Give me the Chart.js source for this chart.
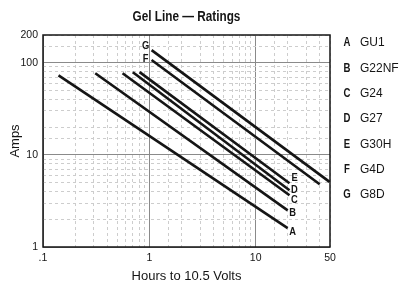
<!DOCTYPE html>
<html>
<head>
<meta charset="utf-8">
<script src="https://cdn.jsdelivr.net/npm/chart.js@4"></script>
<style>
  html, body { margin: 0; padding: 0; background: #fff; }
  #wrap { position: relative; width: 403px; height: 285px; }
</style>
</head>
<body>
<div id="wrap"><canvas id="chart"></canvas></div>
<script>
// battery models, one line each
const seriesLetters = ['A', 'B', 'C', 'D', 'E', 'F', 'G'];
const seriesNames = ['GU1', 'G22NF', 'G24', 'G27', 'G30H', 'G4D', 'G8D'];

// each rating line runs from (startHours, startAmps) to (endHours, endAmps)
const startHours = [0.14, 0.31, 0.56, 0.70, 0.81, 1.05, 1.05];
const startAmps = [73, 77, 77, 79, 79, 107, 137];
const endHours = [20, 20, 20.8, 20.8, 20.8, 40, 49.5];
const endAmps = [1.6, 2.5, 3.65, 4.13, 4.92, 4.8, 5.09];

const xTickValues = [0.1, 1, 10, 50];
const xTickLabels = ['.1', '1', '10', '50'];
const yTickValues = [1, 10, 100, 200];
const yTickLabels = ['1', '10', '100', '200'];

const SANS = "'Liberation Sans', Arial, sans-serif";
const INK = '#151515';

const pickLabel = (v, values, labels) => {
  const i = values.findIndex(t => Math.abs(t - v) / t < 1e-6);
  return i < 0 ? '' : labels[i];
};
const isDecade = v => Math.abs(Math.log10(v) - Math.round(Math.log10(v))) < 1e-6;

const gridColor = ctx => (ctx.tick && isDecade(ctx.tick.value)) ? '#8a8a8a' : '#cdcdcd';
const gridDash = ctx => (ctx.tick && !isDecade(ctx.tick.value)) ? [3, 3] : [];

// nudges for the letters next to the lines
const endNudge = [4, 3, 5, 0, -5];
const startNudge = { F: -1, G: -4 };

// squeeze text sideways to mimic the condensed face of the original
const narrowText = (ctx, text, x, y, squeeze) => {
  ctx.save();
  ctx.translate(x, y);
  ctx.scale(squeeze, 1);
  ctx.fillText(text, 0, 0);
  ctx.restore();
};

const decorations = {
  id: 'decorations',
  beforeDatasetsDraw(chart) {
    const { ctx, chartArea: a } = chart;
    ctx.save();
    ctx.strokeStyle = INK;
    ctx.lineWidth = 1.5;
    ctx.strokeRect(a.left, a.top, a.right - a.left, a.bottom - a.top);
    ctx.restore();
  },
  afterDatasetsDraw(chart) {
    const { ctx, chartArea: a } = chart;
    ctx.save();
    ctx.fillStyle = INK;
    ctx.textAlign = 'center';
    ctx.textBaseline = 'middle';

    ctx.font = 'bold 14px ' + SANS;
    narrowText(ctx, 'Gel Line \u2014 Ratings', (a.left + a.right) / 2, 17, 0.84);

    ctx.font = 'bold 11px ' + SANS;
    chart.data.datasets.forEach((ds, i) => {
      const pts = chart.getDatasetMeta(i).data;
      const letter = seriesLetters[i];
      if (i < 5) {
        const p = pts[pts.length - 1];
        narrowText(ctx, letter, p.x + 5, p.y + endNudge[i], 0.85);
      } else {
        const p = pts[0];
        narrowText(ctx, letter, p.x - 6, p.y + startNudge[letter], 0.85);
      }
    });

    seriesLetters.forEach((letter, i) => {
      const y = 43 + i * 25.3;
      ctx.textAlign = 'center';
      ctx.font = 'bold 12px ' + SANS;
      narrowText(ctx, letter, a.right + 17, y, 0.8);
      ctx.textAlign = 'left';
      ctx.font = '12px ' + SANS;
      ctx.fillText(seriesNames[i], a.right + 30, y);
    });
    ctx.restore();
  }
};

const datasets = seriesLetters.map((letter, i) => ({
  label: seriesNames[i],
  data: [
    { x: startHours[i], y: startAmps[i] },
    { x: endHours[i], y: endAmps[i] }
  ],
  showLine: true,
  borderColor: INK,
  borderWidth: 2.6,
  pointRadius: 0,
  borderCapStyle: 'butt'
}));

new Chart(document.getElementById('chart'), {
  type: 'scatter',
  data: { datasets },
  options: {
    responsive: true,
    maintainAspectRatio: false,
    animation: false,
    layout: { padding: { top: 35, right: 73, left: 0, bottom: 0 } },
    plugins: {
      legend: { display: false },
      tooltip: { enabled: false },
      title: { display: false }
    },
    scales: {
      x: {
        type: 'logarithmic',
        min: 0.1,
        max: 50,
        afterFit: s => { s.height = 38; },
        grid: { color: gridColor, lineWidth: 1, drawTicks: false },
        border: { display: false, dash: gridDash },
        ticks: {
          autoSkip: false,
          maxRotation: 0,
          padding: 5,
          color: INK,
          font: { family: SANS, size: 10.5 },
          callback: v => pickLabel(v, xTickValues, xTickLabels)
        },
        title: {
          display: true,
          text: 'Hours to 10.5 Volts',
          color: INK,
          font: { family: SANS, size: 13 },
          padding: { top: 0, bottom: 1 }
        }
      },
      y: {
        type: 'logarithmic',
        min: 1,
        max: 200,
        afterFit: s => { s.width = 43; },
        grid: { color: gridColor, lineWidth: 1, drawTicks: false },
        border: { display: false, dash: gridDash },
        ticks: {
          autoSkip: false,
          padding: 5,
          color: INK,
          font: { family: SANS, size: 10.5 },
          callback: v => pickLabel(v, yTickValues, yTickLabels)
        },
        title: {
          display: true,
          text: 'Amps',
          color: INK,
          font: { family: SANS, size: 13 },
          padding: { top: 8, bottom: 0 }
        }
      }
    }
  },
  plugins: [decorations]
});
</script>
</body>
</html>
